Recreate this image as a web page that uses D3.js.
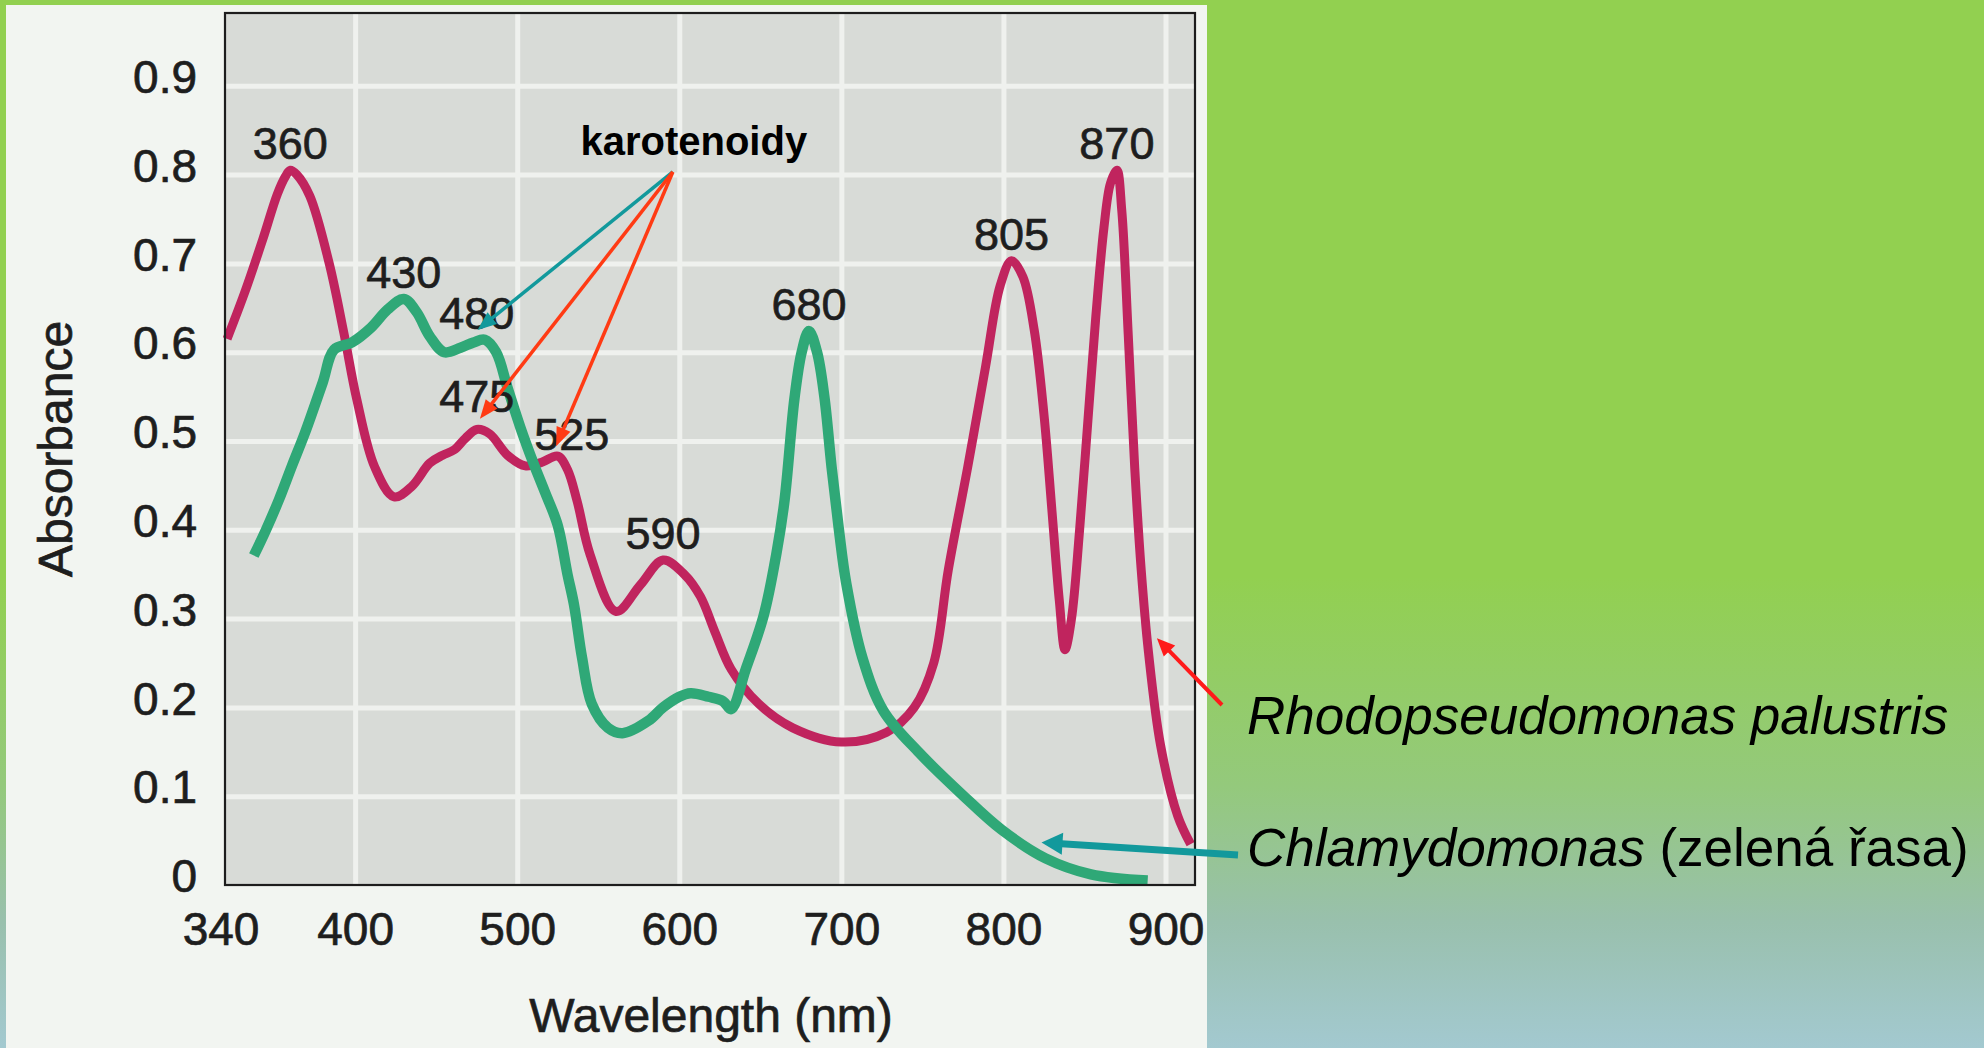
<!DOCTYPE html>
<html>
<head>
<meta charset="utf-8">
<script src="https://cdn.jsdelivr.net/npm/d3@7"></script>
<style>
  html, body { margin: 0; padding: 0; overflow: hidden; background: #92d050; }
  svg { display: block; }
</style>
</head>
<body>
<svg id="chart" width="1984" height="1048"></svg>
<script>
// Absorption spectra (wavelength in nm, absorbance)
const rhodoWavelength = [321, 332, 343, 352, 357, 360, 364, 372, 384, 393, 401, 412, 424, 435, 446, 454, 461, 468, 475, 483, 494, 505, 515, 525, 531, 537, 545, 561, 576, 590, 603, 613, 622, 632, 649, 670, 700, 728, 745, 757, 766, 778, 789, 798, 805, 812, 819, 825, 830, 834.5, 838, 842, 847, 852, 857, 862, 866, 870, 873, 877, 881, 885, 889.5, 897, 907.5, 915.5];
const rhodoAbsorbance = [0.615, 0.668, 0.727, 0.778, 0.798, 0.805, 0.800, 0.776, 0.700, 0.622, 0.547, 0.471, 0.437, 0.449, 0.475, 0.484, 0.490, 0.503, 0.513, 0.508, 0.484, 0.472, 0.476, 0.483, 0.468, 0.432, 0.372, 0.308, 0.338, 0.366, 0.350, 0.325, 0.285, 0.243, 0.204, 0.177, 0.161, 0.172, 0.200, 0.250, 0.355, 0.471, 0.584, 0.675, 0.703, 0.685, 0.625, 0.530, 0.420, 0.320, 0.265, 0.300, 0.400, 0.520, 0.640, 0.740, 0.790, 0.805, 0.760, 0.620, 0.470, 0.355, 0.262, 0.157, 0.078, 0.046];

const chlamyWavelength = [337.5, 345, 353, 361, 369, 380, 387, 398, 410, 420, 430, 438, 446, 455, 465, 473, 480, 487, 494, 502, 510, 517, 525, 531, 535, 540, 546, 556, 565, 581, 590, 600, 607, 618, 627, 632, 641, 652, 660, 665, 671, 675.5, 680, 685, 689.5, 694, 698.5, 703, 713, 726, 748, 775, 799, 826, 854, 889];
const chlamyAbsorbance = [0.371, 0.400, 0.434, 0.472, 0.509, 0.566, 0.603, 0.611, 0.628, 0.648, 0.660, 0.645, 0.618, 0.600, 0.605, 0.611, 0.614, 0.600, 0.560, 0.515, 0.475, 0.443, 0.405, 0.350, 0.316, 0.256, 0.204, 0.177, 0.171, 0.185, 0.200, 0.212, 0.216, 0.212, 0.207, 0.198, 0.243, 0.303, 0.374, 0.434, 0.547, 0.600, 0.624, 0.600, 0.550, 0.470, 0.400, 0.340, 0.256, 0.196, 0.149, 0.101, 0.062, 0.030, 0.012, 0.005];

// Absorption maxima that get a wavelength label
const rhodoPeaks = [360, 475, 525, 590, 805, 870];
const chlamyPeaks = [430, 480, 680];

// Axis ticks
const xTickValues = [400, 500, 600, 700, 800, 900];
const xOriginLabel = "340";
const yTickValues = [0, 0.1, 0.2, 0.3, 0.4, 0.5, 0.6, 0.7, 0.8, 0.9];
const yTickLabels = ["0", "0.1", "0.2", "0.3", "0.4", "0.5", "0.6", "0.7", "0.8", "0.9"];

// Text
const xTitle = "Wavelength (nm)";
const yTitle = "Absorbance";
const carotenoidTitle = "karotenoidy";
const rhodoName = "Rhodopseudomonas palustris";
const chlamyName = "Chlamydomonas";
const chlamyNote = " (zelená řasa)";

// ---------------------------------------------------------------
const W = 1984, H = 1048;
const FONT = "'Liberation Sans', Arial, Helvetica, sans-serif";
const INK = "#1e1e1e";
const RED = "#c0245e";
const GREEN = "#2fa877";
const TEAL = "#12999c";
const ORANGE_RED = "#ff3b14";

const svg = d3.select("#chart");

// slide background: green fading into grey-blue towards the bottom
const defs = svg.append("defs");
const bg = defs.append("linearGradient").attr("id", "slideBg")
  .attr("x1", 0).attr("y1", 0).attr("x2", 0).attr("y2", 1);
[[0, "#92d050"], [0.55, "#92d050"], [0.75, "#94c97c"], [0.88, "#99c0ad"], [1, "#a3c9d0"]]
  .forEach(([o, c]) => bg.append("stop").attr("offset", o).attr("stop-color", c));
svg.append("rect").attr("width", W).attr("height", H).attr("fill", "url(#slideBg)");

// printed figure panel
svg.append("rect").attr("x", 6).attr("y", 5).attr("width", 1201).attr("height", H - 5)
  .attr("fill", "#f2f5f1");

// scales
const x = d3.scaleLinear().domain([319.7, 918.2]).range([225, 1195]);
const y = d3.scaleLinear().domain([0, 0.982]).range([885, 13]);
const [px0, px1] = x.range();
const [py0, py1] = y.range();

// plot background
svg.append("rect").attr("x", px0).attr("y", py1).attr("width", px1 - px0).attr("height", py0 - py1)
  .attr("fill", "#d8dbd7");

// white grid
const gridStyle = g => {
  g.select(".domain").remove();
  g.selectAll("line").attr("stroke", "#eff1ee").attr("stroke-width", 5);
};
svg.append("g").attr("transform", `translate(0,${py0})`)
  .call(d3.axisBottom(x).tickValues(xTickValues).tickSize(-(py0 - py1)).tickFormat(""))
  .call(gridStyle);
svg.append("g").attr("transform", `translate(${px0},0)`)
  .call(d3.axisLeft(y).tickValues(yTickValues.filter(v => v > 0)).tickSize(-(px1 - px0)).tickFormat(""))
  .call(gridStyle);

// spectra
const line = d3.line().x(d => x(d[0])).y(d => y(d[1])).curve(d3.curveCatmullRom.alpha(0.5));
const rhodo = d3.zip(rhodoWavelength, rhodoAbsorbance);
const chlamy = d3.zip(chlamyWavelength, chlamyAbsorbance);

svg.append("path").datum(rhodo).attr("d", line)
  .attr("fill", "none").attr("stroke", RED).attr("stroke-width", 9).attr("stroke-linejoin", "round");
svg.append("path").datum(chlamy).attr("d", line)
  .attr("fill", "none").attr("stroke", GREEN).attr("stroke-width", 10.5).attr("stroke-linejoin", "round");

// frame
svg.append("rect").attr("x", px0).attr("y", py1).attr("width", px1 - px0).attr("height", py0 - py1)
  .attr("fill", "none").attr("stroke", "#1d1d1d").attr("stroke-width", 2.2);

// printed text is a little heavier than the plain regular face
const inked = sel => sel.attr("stroke", INK).attr("stroke-width", 0.7);

// axes
const xAxis = svg.append("g").attr("transform", `translate(0,${py0})`)
  .call(d3.axisBottom(x).tickValues(xTickValues).tickSize(0).tickPadding(27).tickFormat(d3.format("d")));
xAxis.select(".domain").remove();
xAxis.attr("font-size", 46).attr("font-family", FONT).attr("color", INK);
xAxis.append("text").attr("x", px0 - 4).attr("y", 27).attr("dy", "0.71em")
  .attr("text-anchor", "middle").attr("fill", "currentColor").text(xOriginLabel);
xAxis.selectAll("text").call(inked);

const yAxis = svg.append("g").attr("transform", `translate(${px0},0)`)
  .call(d3.axisLeft(y).tickValues(yTickValues).tickSize(0).tickPadding(28)
    .tickFormat((d, i) => yTickLabels[i]));
yAxis.select(".domain").remove();
yAxis.attr("font-size", 46).attr("font-family", FONT).attr("color", INK);
yAxis.selectAll("text").attr("y", -8).call(inked);

svg.append("text").attr("x", 711).attr("y", 1032).attr("text-anchor", "middle")
  .attr("font-family", FONT).attr("font-size", 48).attr("fill", INK).call(inked).text(xTitle);
svg.append("text").attr("transform", "translate(72,449) rotate(-90)").attr("text-anchor", "middle")
  .attr("font-family", FONT).attr("font-size", 48).attr("fill", INK).call(inked).text(yTitle);

// peak wavelength labels, sitting just above each maximum
const labelNudge = { 475: [0, -6], 480: [-8, 0], 525: [14, 5] };
const peakRows = [
  ...rhodoPeaks.map(nm => [nm, rhodoAbsorbance[rhodoWavelength.indexOf(nm)]]),
  ...chlamyPeaks.map(nm => [nm, chlamyAbsorbance[chlamyWavelength.indexOf(nm)]])
];
svg.append("g").attr("font-family", FONT).attr("font-size", 45).attr("fill", INK).call(inked)
  .selectAll("text").data(peakRows).join("text")
  .attr("text-anchor", "middle")
  .attr("x", d => x(d[0]) + (labelNudge[d[0]] ? labelNudge[d[0]][0] : 0))
  .attr("y", d => y(d[1]) - 11 + (labelNudge[d[0]] ? labelNudge[d[0]][1] : 0))
  .text(d => d[0]);

// straight arrow with a filled triangular head
function arrow(g, from, to, color, width, headLen, headHalf) {
  const dx = to[0] - from[0], dy = to[1] - from[1];
  const len = Math.hypot(dx, dy), ux = dx / len, uy = dy / len;
  const bx = to[0] - ux * headLen, by = to[1] - uy * headLen;
  g.append("line").attr("x1", from[0]).attr("y1", from[1])
    .attr("x2", bx + ux * 1).attr("y2", by + uy * 1)
    .attr("stroke", color).attr("stroke-width", width);
  g.append("polygon")
    .attr("points", [[to[0], to[1]], [bx - uy * headHalf, by + ux * headHalf], [bx + uy * headHalf, by - ux * headHalf]]
      .map(p => p.join(",")).join(" "))
    .attr("fill", color);
}
const at = (nm, a) => [x(nm), y(a)];

// carotenoid bands annotation
const ann = svg.append("g");
const karotOrigin = at(596, 0.803);
ann.append("text").attr("x", karotOrigin[0] + 21).attr("y", karotOrigin[1] - 17)
  .attr("text-anchor", "middle").attr("font-family", FONT).attr("font-weight", "bold")
  .attr("font-size", 40).attr("fill", "#000").text(carotenoidTitle);
arrow(ann, karotOrigin, at(475.5, 0.625), TEAL, 3.5, 19, 7.5);
arrow(ann, karotOrigin, at(477, 0.525), ORANGE_RED, 3.5, 19, 7.5);
arrow(ann, karotOrigin, at(524, 0.494), ORANGE_RED, 3.5, 19, 7.5);

// species names beside the plot
const leg = svg.append("g").attr("font-family", FONT).attr("font-size", 53).attr("fill", "#000");
leg.append("text").attr("x", 1247).attr("y", 734).attr("font-style", "italic").text(rhodoName);
const chl = leg.append("text").attr("x", 1247).attr("y", 866);
chl.append("tspan").attr("font-style", "italic").text(chlamyName);
chl.append("tspan").text(chlamyNote);

arrow(ann, [1222, 705], at(894.7, 0.278), "#ff1a1a", 4, 18, 8);
arrow(ann, [1238, 855], at(823.5, 0.048), TEAL, 7, 21, 11);
</script>
</body>
</html>
